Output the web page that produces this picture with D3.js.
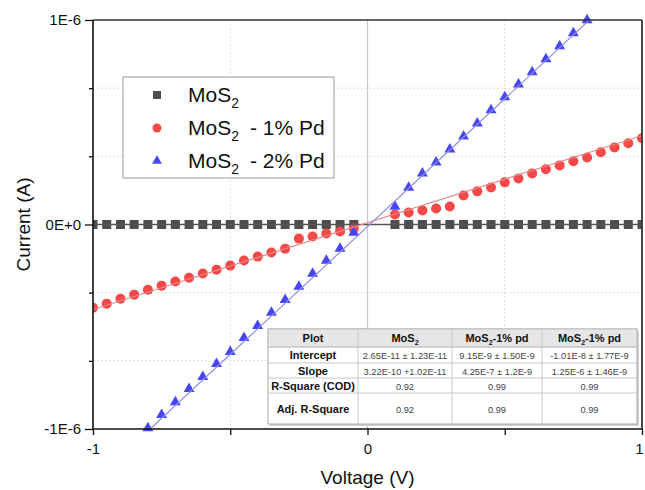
<!DOCTYPE html>
<html><head><meta charset="utf-8">
<script src="https://cdn.jsdelivr.net/npm/d3@7"></script>
<style>
html,body{margin:0;padding:0;background:#fff;}
svg{display:block;font-family:"Liberation Sans",Arial,sans-serif;}
</style></head>
<body><svg id="chart" width="645" height="490"></svg>
<script>
// ---- data (current values in units of 1E-7 A) ----
const UNIT = 1e-7;
const voltage = [-1.00,-0.95,-0.90,-0.85,-0.80,-0.75,-0.70,-0.65,-0.60,-0.55,-0.50,-0.45,-0.40,-0.35,-0.30,-0.25,-0.20,-0.15,-0.10,-0.05,
  0.10,0.15,0.20,0.25,0.30,0.35,0.40,0.45,0.50,0.55,0.60,0.65,0.70,0.75,0.80,0.85,0.90,0.95,1.00];
const mos2 = [0,0,0,0,0,0,0,0,0,0,0,0,0,0,0,0,0,0,0,0, 0,0,0,0,0,0,0,0,0,0,0,0,0,0,0,0,0,0,0];
const pd1 = [-4.07,-3.87,-3.63,-3.43,-3.19,-2.99,-2.79,-2.60,-2.40,-2.21,-2.01,-1.76,-1.57,-1.37,-1.18,-0.69,-0.59,-0.44,-0.34,-0.20,
  0.49,0.59,0.69,0.78,0.88,1.42,1.62,1.81,2.06,2.25,2.50,2.70,2.89,3.09,3.28,3.53,3.77,3.97,4.22];
const voltage2 = [-0.80,-0.75,-0.70,-0.65,-0.60,-0.55,-0.50,-0.45,-0.40,-0.35,-0.30,-0.25,-0.20,-0.15,-0.10,-0.05,
  0.10,0.15,0.20,0.25,0.30,0.35,0.40,0.45,0.50,0.55,0.60,0.65,0.70,0.75,0.80];
const pd2 = [-9.95,-9.31,-8.68,-8.04,-7.45,-6.81,-6.23,-5.54,-4.95,-4.31,-3.68,-3.04,-2.40,-1.76,-1.18,-0.39,
  0.88,1.81,2.50,3.04,3.68,4.31,4.95,5.59,6.23,6.86,7.45,8.09,8.73,9.36,10.0];
const fitSlope = [3.22e-10, 4.25e-7, 1.25e-6];
const fitIntercept = [2.65e-11, 9.15e-9, -1.01e-8];
const seriesNames = ["MoS", "MoS", "MoS"];
const seriesSuffix = ["", "- 1% Pd", "- 2% Pd"];
const yTickValues = [-1e-6, 0, 1e-6];
const yTickLabels = ["-1E-6", "0E+0", "1E-6"];
const yMinorTicks = [-2e-6/3, -1e-6/3, 1e-6/3, 2e-6/3];
const xTickValues = [-1, -0.5, 0, 0.5, 1];
const xTickLabels = ["-1", "", "0", "", "1"];
const tableHeader = ["Plot", "MoS|2", "MoS|2|-1% pd", "MoS|2|-1% pd"];
const tableRows = [
  ["Intercept", "2.65E-11 \u00b1 1.23E-11", "9.15E-9 \u00b1 1.50E-9", "-1.01E-8 \u00b1 1.77E-9"],
  ["Slope", "3.22E-10 +1.02E-11", "4.25E-7 \u00b1 1.2E-9", "1.25E-6 \u00b1 1.46E-9"],
  ["R-Square (COD)", "0.92", "0.99", "0.99"],
  ["Adj. R-Square", "0.92", "0.99", "0.99"]
];

const colors = ["#4d4d4d", "#f54848", "#4646f5"];
const fitColors = ["#555555", "#e08a8a", "#8f8fe0"];

const svg = d3.select("#chart");
const L = 93, R = 642, T = 20, B = 429;
const x = d3.scaleLinear().domain([-1, 1]).range([L, R]);
const y = d3.scaleLinear().domain([-1e-6, 1e-6]).range([B, T]);

const defs = svg.append("defs");
defs.append("clipPath").attr("id", "clipAll").append("rect").attr("x", L).attr("y", T).attr("width", R - L).attr("height", B - T);
defs.append("clipPath").attr("id", "clipX").append("rect").attr("x", L).attr("y", 0).attr("width", R - L).attr("height", 490);

// grid
const grid = svg.append("g");
grid.selectAll("line.hg").data(yMinorTicks).join("line")
  .attr("x1", L).attr("x2", R).attr("y1", d => y(d)).attr("y2", d => y(d))
  .attr("stroke", "#dcdcdc").attr("stroke-width", 1).attr("stroke-dasharray", "2,2");
grid.selectAll("line.vg").data([-0.5, 0.5]).join("line")
  .attr("x1", d => x(d)).attr("x2", d => x(d)).attr("y1", T).attr("y2", B)
  .attr("stroke", "#dcdcdc").attr("stroke-width", 1).attr("stroke-dasharray", "2,2");
grid.append("line").attr("x1", x(0)).attr("x2", x(0)).attr("y1", T).attr("y2", B)
  .attr("stroke", "#c8c8c8").attr("stroke-width", 1.2);

// markers
const mk = svg.append("g").attr("clip-path", "url(#clipX)");
mk.selectAll("rect.sq").data(voltage.map((v, i) => [v, mos2[i] * UNIT])).join("rect")
  .attr("x", d => x(d[0]) - 4.5).attr("y", d => y(d[1]) - 4.5).attr("width", 9).attr("height", 9)
  .attr("fill", colors[0]);
mk.selectAll("circle.c").data(voltage.map((v, i) => [v, pd1[i] * UNIT])).join("circle")
  .attr("cx", d => x(d[0])).attr("cy", d => y(d[1])).attr("r", 5).attr("fill", colors[1]);
const tri = d3.symbol().type(d3.symbolTriangle).size(52);
mk.selectAll("path.t").data(voltage2.map((v, i) => [v, pd2[i] * UNIT])).join("path")
  .attr("d", tri).attr("transform", d => `translate(${x(d[0])},${y(d[1])})`).attr("fill", colors[2]);

// fit lines
const fits = svg.append("g").attr("clip-path", "url(#clipAll)");
fitSlope.forEach((s, i) => {
  fits.append("line")
    .attr("x1", x(-1)).attr("y1", y(s * -1 + fitIntercept[i]))
    .attr("x2", x(1)).attr("y2", y(s * 1 + fitIntercept[i]))
    .attr("stroke", fitColors[i]).attr("stroke-width", i === 0 ? 1.5 : 1.2);
});

// frame top & right
svg.append("line").attr("x1", L).attr("x2", R).attr("y1", T).attr("y2", T).attr("stroke", "#333").attr("stroke-width", 1.6);
svg.append("line").attr("x1", R).attr("x2", R).attr("y1", T).attr("y2", B).attr("stroke", "#333").attr("stroke-width", 1.8);

// axes
const yAxis = svg.append("g").attr("transform", `translate(${L},0)`)
  .call(d3.axisLeft(y).tickValues(yTickValues).tickSize(8).tickPadding(4)
    .tickFormat((d, i) => yTickLabels[i]));
const yMinor = svg.append("g").attr("transform", `translate(${L},0)`)
  .call(d3.axisLeft(y).tickValues(yMinorTicks).tickSize(4).tickFormat(""));
yMinor.select(".domain").remove();
const xAxis = svg.append("g").attr("transform", `translate(0,${B})`)
  .call(d3.axisBottom(x).tickValues(xTickValues).tickSize(6).tickPadding(8)
    .tickFormat((d, i) => xTickLabels[i]));
[yAxis, yMinor, xAxis].forEach(g => {
  g.select(".domain").attr("stroke", "#111").attr("stroke-width", 1.6);
  g.selectAll(".tick line").attr("stroke", "#111").attr("stroke-width", 1.3);
  g.selectAll(".tick text").attr("fill", "#111").style("font-size", "15px")
    .style("font-family", "'Liberation Sans', Arial, sans-serif");
});
xAxis.selectAll(".tick text").filter(d => d === 1).attr("dx", -3);
yAxis.select(".domain").attr("d", `M0,${T}V${B}`);
xAxis.select(".domain").attr("d", `M${L},0H${R}`);

// axis titles
svg.append("text").attr("x", x(0)).attr("y", 484).attr("text-anchor", "middle")
  .style("font-size", "19px").attr("fill", "#111").text("Voltage (V)");
svg.append("text").attr("transform", `translate(30,${y(0)}) rotate(-90)`).attr("text-anchor", "middle")
  .style("font-size", "19px").attr("fill", "#111").text("Current (A)");

// legend
const lg = svg.append("g");
lg.append("rect").attr("x", 123).attr("y", 77).attr("width", 211).attr("height", 101)
  .attr("fill", "#fff").attr("stroke", "#9a9a9a").attr("stroke-width", 1);
const legY = [95, 128, 161];
legY.forEach((ly, i) => {
  if (i === 0) lg.append("rect").attr("x", 153).attr("y", ly - 4).attr("width", 8).attr("height", 8).attr("fill", colors[0]);
  if (i === 1) lg.append("circle").attr("cx", 157).attr("cy", ly).attr("r", 4.5).attr("fill", colors[1]);
  if (i === 2) lg.append("path").attr("d", d3.symbol().type(d3.symbolTriangle).size(42)).attr("transform", `translate(157,${ly})`).attr("fill", colors[2]);
  const t = lg.append("text").attr("x", 188).attr("y", ly + 7).style("font-size", "21px").attr("fill", "#111");
  t.append("tspan").text(seriesNames[i]);
  t.append("tspan").attr("dy", 6).style("font-size", "14px").text("2");
  if (seriesSuffix[i]) t.append("tspan").attr("dy", -6).attr("dx", 11).text(seriesSuffix[i]);
});

// table
const colX = [268, 358, 452, 542, 637];
const rowY = [329, 347, 363, 378, 393, 424];
const tb = svg.append("g");
tb.append("rect").attr("x", colX[0] + 2).attr("y", rowY[0] + 2).attr("width", colX[4] - colX[0]).attr("height", rowY[5] - rowY[0])
  .attr("fill", "#cfcfcf");
tb.append("rect").attr("x", colX[0]).attr("y", rowY[0]).attr("width", colX[4] - colX[0]).attr("height", rowY[5] - rowY[0])
  .attr("fill", "#fff").attr("stroke", "#a8a8a8").attr("stroke-width", 1);
tb.append("rect").attr("x", colX[0]).attr("y", rowY[0]).attr("width", colX[4] - colX[0]).attr("height", rowY[1] - rowY[0])
  .attr("fill", "#e6e6e6").attr("stroke", "#bdbdbd").attr("stroke-width", 1);
rowY.slice(1, 5).forEach(ry => tb.append("line").attr("x1", colX[0]).attr("x2", colX[4]).attr("y1", ry).attr("y2", ry).attr("stroke", "#c8c8c8"));
colX.slice(1, 4).forEach(cx => tb.append("line").attr("x1", cx).attr("x2", cx).attr("y1", rowY[0]).attr("y2", rowY[5]).attr("stroke", "#c8c8c8"));
tableHeader.forEach((h, c) => {
  const t = tb.append("text").attr("x", (colX[c] + colX[c + 1]) / 2).attr("y", (rowY[0] + rowY[1]) / 2 + 4)
    .attr("text-anchor", "middle").style("font-size", "11px").style("font-weight", "bold").attr("fill", "#111");
  const parts = h.split("|");
  t.append("tspan").text(parts[0]);
  if (parts.length > 1) {
    t.append("tspan").attr("dy", 3).style("font-size", "7px").text(parts[1]);
    t.append("tspan").attr("dy", -3).text(parts[2] || "");
  }
});
tableRows.forEach((row, r) => {
  row.forEach((v, c) => {
    tb.append("text").attr("x", (colX[c] + colX[c + 1]) / 2).attr("y", (rowY[r + 1] + rowY[r + 2]) / 2 + 4)
      .attr("text-anchor", "middle")
      .style("font-size", c === 0 ? "11px" : "9.3px").style("font-weight", c === 0 ? "bold" : "normal")
      .attr("fill", c === 0 ? "#111" : "#444").text(v);
  });
});
</script></body></html>
